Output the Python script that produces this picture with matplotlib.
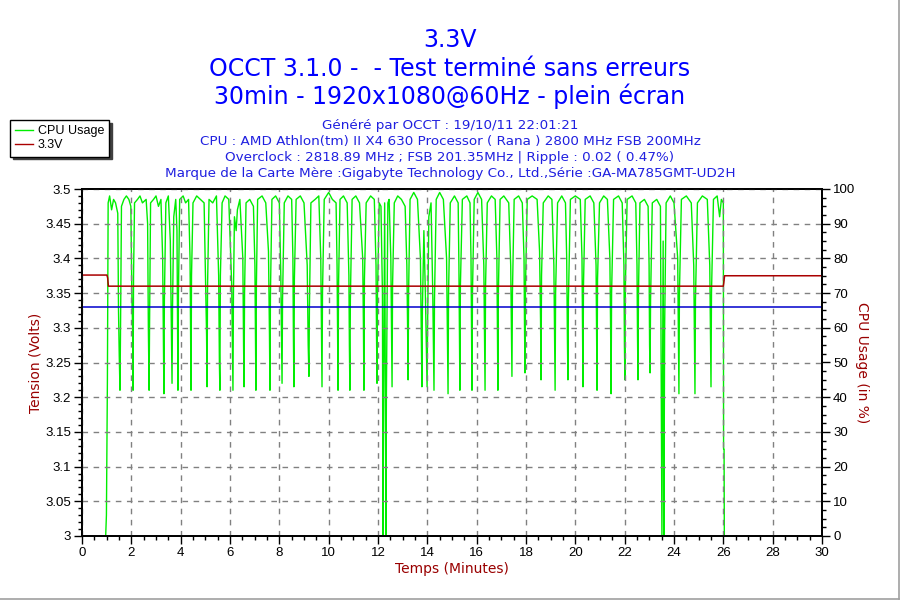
import matplotlib
matplotlib.use("Agg")
import matplotlib.pyplot as plt
from matplotlib.lines import Line2D
from matplotlib.ticker import MultipleLocator

# Chart texts
title_lines = ["3.3V", "OCCT 3.1.0 -  - Test terminé sans erreurs", "30min - 1920x1080@60Hz - plein écran"]
info_lines = [
    "Généré par OCCT : 19/10/11 22:01:21",
    "CPU : AMD Athlon(tm) II X4 630 Processor ( Rana ) 2800 MHz FSB 200MHz",
    "Overclock : 2818.89 MHz ; FSB 201.35MHz | Ripple : 0.02 ( 0.47%)",
    "Marque de la Carte Mère :Gigabyte Technology Co., Ltd.,Série :GA-MA785GMT-UD2H",
]

# 3.3V rail (volts) vs time (minutes)
volt_minutes = [0, 1.01, 1.04, 1.07, 26.0, 26.02, 26.05, 30]
volt_values = [3.376, 3.376, 3.372, 3.360, 3.360, 3.365, 3.375, 3.375]

# nominal reference line
ref_minutes = [0, 30]
ref_values = [3.33, 3.33]

# CPU usage (%) vs time (minutes)
cpu_minutes = [
    0.96, 0.99, 1.03, 1.06, 1.12, 1.2, 1.28, 1.36, 1.45,
    1.48, 1.51, 1.54, 1.56, 1.6, 1.7, 1.8, 1.9, 1.98,
    2.02, 2.05, 2.07, 2.09, 2.13, 2.25, 2.35, 2.45, 2.6, 2.66,
    2.69, 2.72, 2.74, 2.78, 2.9, 3.0, 3.1, 3.2, 3.27,
    3.3, 3.32, 3.34, 3.4, 3.5, 3.58,
    3.62, 3.65, 3.67, 3.72, 3.8, 3.85,
    3.89, 3.91, 3.96, 4.1, 4.2, 4.32, 4.38,
    4.4, 4.42, 4.44, 4.5, 4.65, 4.8, 4.95, 5.02,
    5.05, 5.07, 5.09, 5.15, 5.3, 5.45, 5.54,
    5.57, 5.59, 5.61, 5.68, 5.8, 5.95, 6.07,
    6.1, 6.12, 6.14, 6.18, 6.25, 6.3, 6.4, 6.52,
    6.55, 6.57, 6.59, 6.65, 6.8, 6.95, 7.01,
    7.03, 7.05, 7.07, 7.12, 7.3, 7.45, 7.56,
    7.6, 7.62, 7.64, 7.7, 7.85, 8.0, 8.06,
    8.09, 8.11, 8.13, 8.2, 8.35, 8.5, 8.55,
    8.57, 8.59, 8.61, 8.68, 8.85, 9.0, 9.13,
    9.17, 9.2, 9.22, 9.28, 9.45, 9.6, 9.68,
    9.71, 9.73, 9.75, 9.82, 10.0, 10.15, 10.3, 10.34,
    10.36, 10.38, 10.4, 10.46, 10.6, 10.75, 10.82,
    10.84, 10.86, 10.88, 10.95, 11.1, 11.25, 11.38,
    11.41, 11.43, 11.45, 11.52, 11.7, 11.85, 11.92,
    11.94, 11.96, 11.98, 12.05, 12.12, 12.18,
    12.2, 12.22, 12.27, 12.32, 12.34, 12.4, 12.45, 12.52,
    12.55, 12.57, 12.59, 12.66, 12.8, 12.95, 13.1, 13.17,
    13.2, 13.22, 13.24, 13.3, 13.45, 13.6, 13.72,
    13.76, 13.78, 13.8, 13.86, 13.92, 13.99, 14.01, 14.06, 14.15, 14.22,
    14.27, 14.29, 14.36, 14.5, 14.65, 14.78,
    14.82, 14.84, 14.86, 14.93, 15.1, 15.25, 15.28,
    15.3, 15.32, 15.34, 15.42, 15.6, 15.73, 15.77,
    15.79, 15.81, 15.83, 15.9, 16.05, 16.2, 16.29,
    16.32, 16.34, 16.36, 16.43, 16.6, 16.75, 16.82,
    16.84, 16.86, 16.88, 16.95, 17.1, 17.3, 17.38,
    17.41, 17.43, 17.45, 17.52, 17.7, 17.85, 17.92,
    17.94, 17.96, 17.98, 18.05, 18.25, 18.45, 18.55,
    18.59, 18.61, 18.63, 18.7, 18.9, 19.05, 19.13,
    19.16, 19.18, 19.2, 19.28, 19.45, 19.6, 19.65,
    19.68, 19.7, 19.72, 19.8, 20.0, 20.2, 20.27,
    20.29, 20.31, 20.33, 20.4, 20.6, 20.75, 20.84,
    20.86, 20.88, 20.9, 20.98, 21.15, 21.3, 21.4,
    21.43, 21.45, 21.47, 21.55, 21.75, 21.9, 21.97,
    21.99, 22.01, 22.03, 22.1, 22.3, 22.45, 22.5,
    22.52, 22.54, 22.56, 22.62, 22.8, 22.95, 22.99,
    23.01, 23.03, 23.05, 23.12, 23.3, 23.45,
    23.51, 23.54, 23.56, 23.59, 23.62, 23.68, 23.85, 24.0, 24.15,
    24.18, 24.2, 24.22, 24.3, 24.5, 24.7, 24.8,
    24.83, 24.85, 24.87, 24.95, 25.15, 25.35, 25.45,
    25.48, 25.5, 25.52, 25.6, 25.75, 25.85, 25.92, 26.0, 26.01, 26.03, 26.04,
]
cpu_values = [
    0, 6, 45, 96, 98, 94, 97, 96, 93,
    65, 52, 42, 58, 95, 97, 98, 97, 95,
    70, 60, 42, 75, 96, 97, 98, 96, 97, 90,
    60, 42, 62, 96, 97, 98, 95, 97, 80,
    55, 41, 68, 96, 98, 85,
    60, 44, 66, 92, 97, 88,
    42, 70, 97, 98, 96, 97, 80,
    62, 42, 75, 96, 98, 97, 96, 70,
    58, 43, 72, 97, 96, 98, 75,
    50, 42, 75, 96, 98, 97, 72,
    55, 42, 70, 92, 88, 94, 97, 80,
    55, 43, 70, 96, 97, 95, 78,
    60, 42, 72, 97, 98, 96, 82,
    58, 42, 70, 97, 98, 96, 75,
    55, 44, 68, 96, 98, 97, 80,
    58, 43, 74, 97, 98, 96, 78,
    55, 46, 66, 96, 97, 98, 80,
    56, 43, 70, 97, 99, 97, 96, 78,
    60, 42, 72, 97, 98, 96, 75,
    55, 42, 68, 97, 98, 96, 80,
    60, 42, 74, 96, 98, 97, 78,
    58, 44, 70, 96, 95, 70,
    0, 30, 96, 0, 40, 96, 97, 80,
    58, 43, 72, 96, 98, 97, 95, 78,
    60, 45, 70, 97, 99, 97, 80,
    55, 43, 65, 88, 70, 43, 60, 92, 96, 70,
    42, 68, 97, 99, 97, 80,
    55, 41, 70, 96, 98, 96, 78,
    58, 42, 72, 97, 98, 96, 80,
    60, 42, 70, 97, 99, 97, 78,
    56, 42, 72, 96, 98, 97, 80,
    60, 42, 70, 97, 98, 96, 78,
    58, 46, 70, 97, 98, 96, 80,
    60, 47, 72, 97, 98, 97, 82,
    62, 45, 75, 96, 98, 97, 78,
    58, 42, 70, 96, 98, 96, 80,
    56, 45, 68, 97, 98, 97, 80,
    60, 43, 72, 97, 98, 96, 78,
    58, 42, 74, 96, 98, 97, 80,
    60, 41, 70, 97, 98, 96, 78,
    55, 45, 72, 97, 98, 96, 78,
    58, 45, 70, 96, 97, 95, 78,
    55, 47, 68, 96, 97, 95,
    0, 50, 85, 0, 60, 96, 98, 96, 80,
    58, 41, 70, 97, 98, 96, 78,
    55, 41, 68, 96, 98, 97, 78,
    56, 43, 70, 97, 98, 92, 97, 96, 25, 25, 0,
]

bg_color = "#FDF7E9"
label_color = "#990000"
title_color = "#0000FF"

fig = plt.figure(figsize=(9, 6), dpi=100)
fig.patch.set_facecolor("white")

ax = fig.add_axes([82 / 900, 1 - 536 / 600, 740 / 900, 347 / 600])
ax2 = ax.twinx()

# CPU axis sits underneath so the voltage lines are drawn on top
ax2.set_zorder(1)
ax.set_zorder(2)
ax.patch.set_visible(False)
ax2.patch.set_facecolor(bg_color)

ax2.plot(cpu_minutes, cpu_values, color="#00EE00", lw=1.0)
ax.plot(ref_minutes, ref_values, color="#0000CC", lw=1.1)
ax.plot(volt_minutes, volt_values, color="#AA0000", lw=1.1)

ax.set_xlim(0, 30)
ax.set_ylim(3.0, 3.5)
ax2.set_ylim(0, 100)

ax.xaxis.set_major_locator(MultipleLocator(2))
ax.xaxis.set_minor_locator(MultipleLocator(0.5))
ax.yaxis.set_major_locator(MultipleLocator(0.05))
ax.yaxis.set_minor_locator(MultipleLocator(0.01))
ax2.yaxis.set_major_locator(MultipleLocator(10))
ax2.yaxis.set_minor_locator(MultipleLocator(2.5))
ax.yaxis.set_major_formatter(plt.FuncFormatter(lambda v, p: f"{v:.2f}".rstrip("0").rstrip(".")))

ax.grid(True, which="major", color="#808080", linestyle=(0, (4, 4)), lw=1.0)

for a in (ax, ax2):
    a.tick_params(which="major", length=6, width=1, color="black", labelsize=9.5, pad=2)
    a.tick_params(which="minor", length=3, width=1, color="black")
    for lab in a.get_xticklabels() + a.get_yticklabels():
        lab.set_fontfamily("Liberation Sans")
    for sp in a.spines.values():
        sp.set_color("black")
        sp.set_linewidth(1.3)

ax.set_xlabel("Temps (Minutes)", color=label_color, fontsize=10, labelpad=2)
ax.set_ylabel("Tension (Volts)", color=label_color, fontsize=10, labelpad=1.5)
ax2.set_ylabel("CPU Usage (in %)", color=label_color, fontsize=10, rotation=-90, labelpad=10)

# titles
title_y = [40, 69, 96]
for txt, y in zip(title_lines, title_y):
    fig.text(0.5, 1 - y / 600, txt, ha="center", va="center", color=title_color, fontsize=17)

info_y = [126, 142, 158, 174]
for txt, y in zip(info_lines, info_y):
    fig.text(0.5, 1 - y / 600, txt, ha="center", va="center", color="#2020E0", fontsize=9.7)

handles = [Line2D([], [], color="#00EE00", lw=1.0), Line2D([], [], color="#AA0000", lw=1.0)]
leg = fig.legend(handles, ["CPU Usage", "3.3V"], loc="upper left",
                 bbox_to_anchor=(10 / 900, 1 - 120 / 600), borderaxespad=0,
                 fancybox=False, shadow={"color": "#404040", "alpha": 1.0}, edgecolor="black",
                 framealpha=1, prop={"family": "Liberation Sans", "size": 9},
                 handlelength=1.4, handletextpad=0.4, labelspacing=0.2,
                 borderpad=0.4)
leg.get_frame().set_linewidth(1.0)

# thin grey border on right and bottom
fig.add_artist(Line2D([0.999, 0.999], [0.002, 1], transform=fig.transFigure, color="#A0A0A0", lw=1.2))
fig.add_artist(Line2D([0, 0.999], [0.002, 0.002], transform=fig.transFigure, color="#A0A0A0", lw=1.2))

fig.savefig("out.png", dpi=100)
